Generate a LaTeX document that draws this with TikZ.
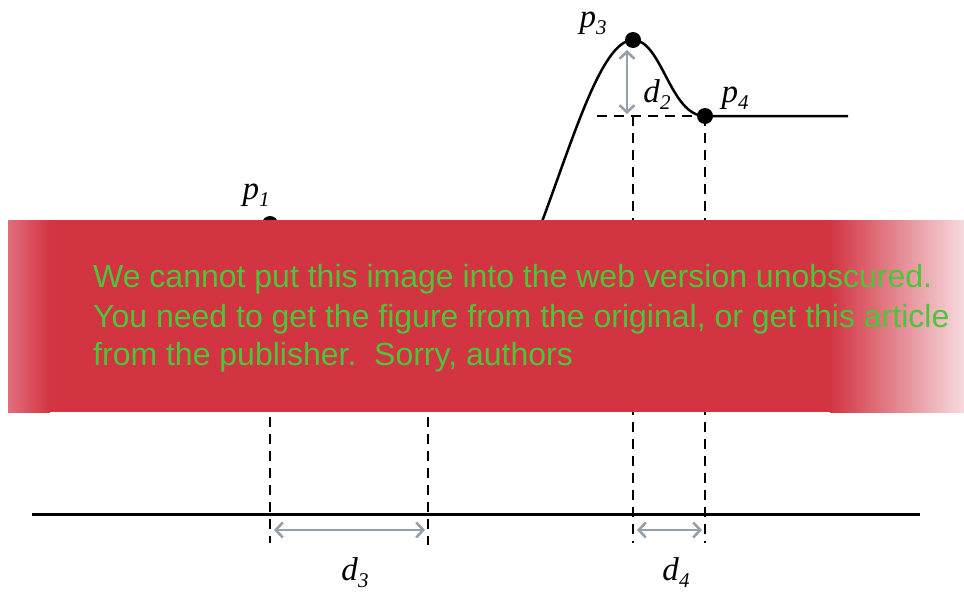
\documentclass[tikz,border=0pt]{standalone}
\usepackage{fontspec}
\newfontfamily\bannerfont{Liberation Sans}
\newfontfamily\lblfont{Liberation Serif}
\usetikzlibrary{arrows.meta}
\definecolor{bannerred}{RGB}{210,52,66}
\definecolor{bannerpink}{RGB}{226,110,124}
\definecolor{bannerwhite}{RGB}{246,218,222}
\definecolor{bannergreen}{RGB}{78,196,58}
\definecolor{dimgray}{RGB}{150,160,170}
\newcommand{\lab}[2]{\textit{#1}\raisebox{-7pt}{\fontsize{21}{21}\selectfont\textit{#2}}}
\tikzset{
  guide/.style={black, line width=1.7pt, dash pattern=on 10pt off 7pt},
  dimarrow/.style={dimgray, line width=2.6pt, {Straight Barb[length=7pt,width=15pt,line width=2.6pt]}-{Straight Barb[length=7pt,width=15pt,line width=2.6pt]}},
  pt/.style={circle, fill=black, inner sep=0pt, minimum size=16pt},
  lbl/.style={inner sep=0pt, anchor=base, font=\lblfont\fontsize{33}{33}\selectfont},
  bline/.style={inner sep=0pt, anchor=base west, text=bannergreen, font=\bannerfont\fontsize{32}{32}\selectfont}
}
\begin{document}
\begin{tikzpicture}[x=1pt,y=-1pt]
\useasboundingbox (0,0) rectangle (964,592);
% points
\coordinate (P1) at (270,224);
\coordinate (P3) at (633,40);
\coordinate (P4) at (705,116);
\coordinate (H) at (633,116);
\coordinate (Hl) at (597,116);
\coordinate (End) at (848,116);
\coordinate (Start) at (535,240);
% base line
\coordinate (BL) at (32,514);
\coordinate (BR) at (920,514);
\draw[line width=3pt] (BL) -- (BR);
% curve
\draw[line width=2.5pt] (Start) .. controls (570,150) and (600,40) .. (P3)
  .. controls (662,40) and (670,116) .. (P4) -- (End);
% guides
\draw[guide] (Hl) -- (P4);
\draw[guide] (H) -- (633,543);
\draw[guide] (P4) -- (705,543);
\draw[guide] (270,400) -- (270,543);
\draw[guide] (428,400) -- (428,545);
% dimension arrows
\draw[dimarrow] (627,50) -- (627,114);
\draw[dimarrow] (274,530) -- (425,530);
\draw[dimarrow] (637,530) -- (702,530);
% dots
\node[pt] (p1) at (P1) {};
\node[pt] (p3) at (P3) {};
\node[pt] (p4) at (P4) {};
% labels
\node[lbl] (l1) at (256,199) {\lab{p}{1}};
\node[lbl] (l3) at (593,27) {\lab{p}{3}};
\node[lbl] (l2) at (657,102) {\lab{d}{2}};
\node[lbl] (l4) at (735,102) {\lab{p}{4}};
\node[lbl] (l5) at (355,580) {\lab{d}{3}};
\node[lbl] (l6) at (676,580) {\lab{d}{4}};
% banner
\fill[bannerred] (8,220) rectangle (964,412);
\shade[left color=bannerpink, right color=bannerred] (8,220) rectangle (50,412);
\shade[left color=bannerred, right color=bannerwhite] (830,220) rectangle (964,412);
\node[bline] (t1) at (93,287) {We cannot put this image into the web version unobscured.};
\node[bline] (t2) at (93,327) {You need to get the figure from the original, or get this article};
\node[bline] (t3) at (93,365) {from the publisher.\ \ Sorry, authors};
\end{tikzpicture}
\end{document}
